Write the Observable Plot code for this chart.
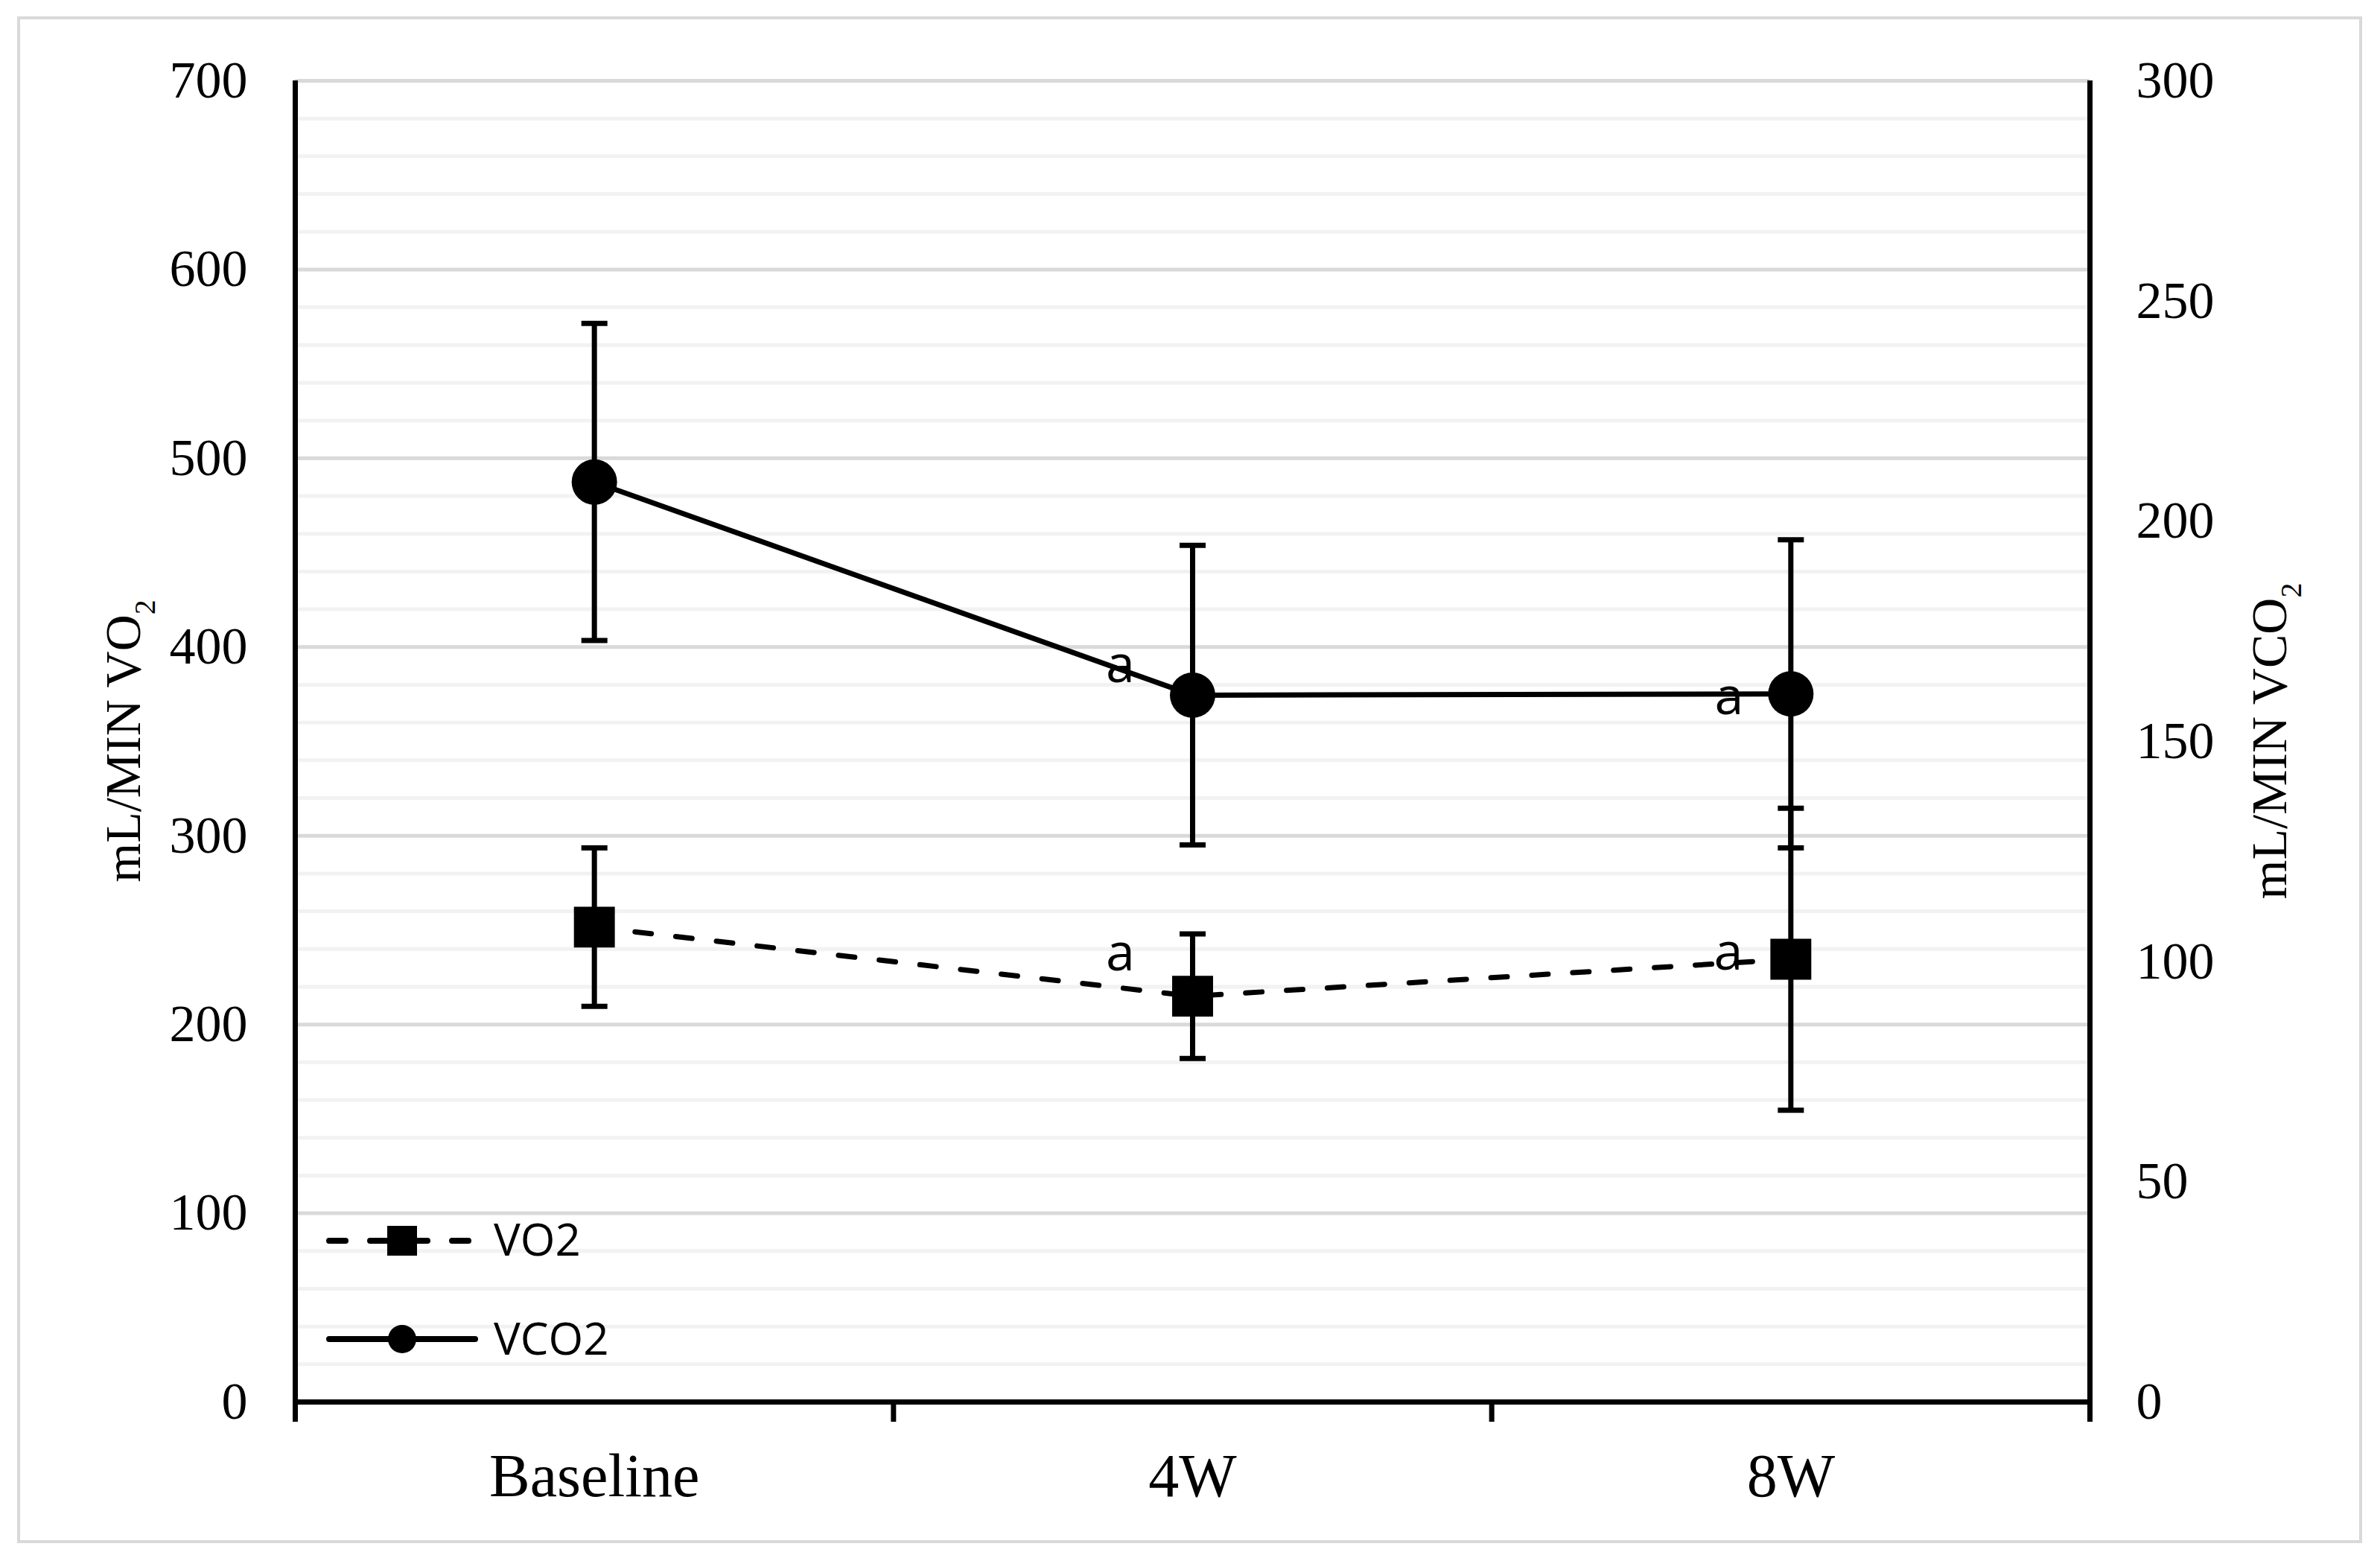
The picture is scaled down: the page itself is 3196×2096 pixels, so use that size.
<!DOCTYPE html>
<html><head><meta charset="utf-8">
<script src="https://cdn.jsdelivr.net/npm/d3@7"></script>
<script src="https://cdn.jsdelivr.net/npm/@observablehq/plot@0.6"></script>
<style>html,body{margin:0;padding:0;background:#fff;} svg{display:block}</style>
</head><body><div id="chart"></div>
<script>
// ---- data ----
const categories = ["Baseline", "4W", "8W"];
const vo2Mean = [251.6, 215.0, 234.6];     // mL/min, left axis
const vo2Err = [42, 33, 80];
const vco2Mean = [208.9, 160.5, 160.8];    // mL/min, right axis
const vco2Err = [36, 34, 35];
const vo2Sig = ["", "a", "a"];
const vco2Sig = ["", "a", "a"];
const leftTicks = [0, 100, 200, 300, 400, 500, 600, 700];
const rightTicks = [0, 50, 100, 150, 200, 250, 300];
const minorTicks = d3.range(0, 701, 20).filter(v => v % 100 !== 0);
const categoryBounds = [-0.5, 0.5, 1.5, 2.5];

// ---- derived ----
const leftMax = 700, rightMax = 300, ratio = leftMax / rightMax;
const vo2 = categories.map((c, i) => ({i, cat: c, mean: vo2Mean[i], lo: vo2Mean[i] - vo2Err[i], hi: vo2Mean[i] + vo2Err[i], sig: vo2Sig[i]}));
const vco2 = categories.map((c, i) => ({i, cat: c, mean: vco2Mean[i] * ratio, lo: (vco2Mean[i] - vco2Err[i]) * ratio, hi: (vco2Mean[i] + vco2Err[i]) * ratio, sig: vco2Sig[i]}));

const capSymbol = {draw(ctx, size) { const r = Math.sqrt(size / Math.PI); ctx.moveTo(-r, 0); ctx.lineTo(r, 0); }};
const serif = "'Liberation Serif', 'Times New Roman', serif";
const sans = "'Open Sans', 'Noto Sans', sans-serif";

function errorMarks(data) {
  return [
    Plot.ruleX(data, {x: "i", y1: "lo", y2: "hi", stroke: "black", strokeWidth: 7}),
    Plot.dot(data, {x: "i", y: "lo", symbol: capSymbol, r: 17.5, stroke: "black", strokeWidth: 7, fill: "none"}),
    Plot.dot(data, {x: "i", y: "hi", symbol: capSymbol, r: 17.5, stroke: "black", strokeWidth: 7, fill: "none"})
  ];
}

const chart = Plot.plot({
  width: 3196,
  height: 2096,
  marginLeft: 396,
  marginRight: 390,
  marginTop: 108,
  marginBottom: 214,
  style: {background: "white", color: "black", fontFamily: serif},
  x: {domain: [-0.5, 2.5], label: null},
  y: {domain: [0, leftMax], label: null},
  marks: [
    Plot.ruleY(minorTicks, {stroke: "#f2f2f2", strokeWidth: 5}),
    Plot.ruleY(leftTicks.filter(v => v > 0), {stroke: "#d9d9d9", strokeWidth: 5}),
    Plot.ruleX([-0.5, 2.5], {y1: 0, y2: leftMax, stroke: "black", strokeWidth: 7}),
    Plot.ruleY([0], {stroke: "black", strokeWidth: 7}),
    Plot.axisX({ticks: categoryBounds, tickSize: 27, strokeWidth: 7, tickFormat: () => ""}),
    Plot.axisX({ticks: [0, 1, 2], tickSize: 0, tickPadding: 68, tickFormat: i => categories[i], fontSize: 82, fontFamily: serif}),
    Plot.axisY({anchor: "left", ticks: leftTicks, tickSize: 0, tickPadding: 64, tickFormat: d => String(d), fontSize: 70, fontFamily: serif}),
    Plot.axisY({anchor: "right", ticks: rightTicks.map(v => v * ratio), tickSize: 0, tickPadding: 62, tickFormat: v => String(Math.round(v / ratio)), fontSize: 70, fontFamily: serif}),
    ...errorMarks(vco2),
    ...errorMarks(vo2),
    Plot.line(vco2, {x: "i", y: "mean", stroke: "black", strokeWidth: 7}),
    Plot.line(vo2, {x: "i", y: "mean", stroke: "black", strokeWidth: 7, strokeDasharray: "22,33", strokeLinecap: "round"}),
    Plot.dot(vco2, {x: "i", y: "mean", r: 30.5, fill: "black", stroke: "none"}),
    Plot.dot(vo2, {x: "i", y: "mean", symbol: "square", r: 31, fill: "black", stroke: "none"}),
    Plot.text(vco2.filter(d => d.i === 1 && d.sig), {x: "i", y: "mean", text: "sig", dx: -97, dy: -40, fontSize: 70, fontFamily: sans}),
    Plot.text(vco2.filter(d => d.i === 2 && d.sig), {x: "i", y: "mean", text: "sig", dx: -83, dy: 5, fontSize: 70, fontFamily: sans}),
    Plot.text(vo2.filter(d => d.i === 1 && d.sig), {x: "i", y: "mean", text: "sig", dx: -97, dy: -57, fontSize: 70, fontFamily: sans}),
    Plot.text(vo2.filter(d => d.i === 2 && d.sig), {x: "i", y: "mean", text: "sig", dx: -84, dy: -8, fontSize: 70, fontFamily: sans})
  ]
});

document.getElementById("chart").appendChild(chart);
const svg = d3.select(chart);

// outer border
svg.append("rect").attr("x", 25).attr("y", 24).attr("width", 3145).attr("height", 2046)
  .attr("fill", "none").attr("stroke", "#d9d9d9").attr("stroke-width", 4);

// axis titles with subscripts
function yTitle(x, main) {
  const t = svg.append("text").attr("transform", `translate(${x},995) rotate(-90)`)
    .attr("text-anchor", "middle").attr("fill", "black")
    .style("font-family", serif).style("font-size", "68px");
  t.append("tspan").text(main);
  t.append("tspan").attr("dy", 20).style("font-size", "40px").text("2");
}
yTitle(188, "mL/MIN VO");
yTitle(3070, "mL/MIN VCO");

// legend
const lg = svg.append("g").attr("text-anchor", "start");
lg.append("line").attr("x1", 442).attr("x2", 629).attr("y1", 1666).attr("y2", 1666)
  .attr("stroke", "black").attr("stroke-width", 8).attr("stroke-dasharray", "22,33").attr("stroke-linecap", "round");
lg.append("rect").attr("x", 520).attr("y", 1646).attr("width", 40).attr("height", 40).attr("fill", "black");
lg.append("text").attr("x", 663).attr("y", 1686).attr("text-anchor", "start").style("font-family", sans).style("font-size", "60px").attr("fill", "black").text("VO2");
lg.append("line").attr("x1", 442).attr("x2", 638).attr("y1", 1798).attr("y2", 1798)
  .attr("stroke", "black").attr("stroke-width", 8).attr("stroke-linecap", "round");
lg.append("circle").attr("cx", 540).attr("cy", 1798).attr("r", 19).attr("fill", "black");
lg.append("text").attr("x", 663).attr("y", 1819).attr("text-anchor", "start").style("font-family", sans).style("font-size", "60px").attr("fill", "black").text("VCO2");
</script>
</body></html>
